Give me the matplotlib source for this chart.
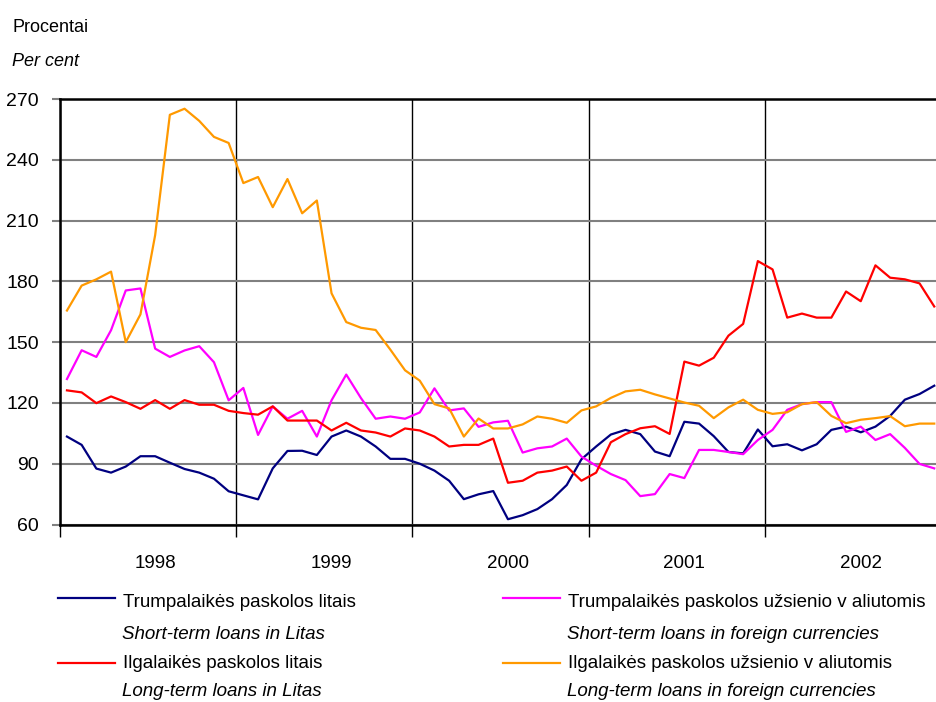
import numpy as np
import matplotlib
matplotlib.use("Agg")
import matplotlib.pyplot as plt
from matplotlib.lines import Line2D

plt.rcParams['font.family'] = ['Liberation Sans', 'DejaVu Sans']

# monthly data, Jan 1998 - Dec 2002
years = ['1998', '1999', '2000', '2001', '2002']

short_litas = [103.4, 99.3, 87.6, 85.6, 88.6, 93.7, 93.7, 90.5, 87.4, 85.6, 82.6, 76.4,
               74.4, 72.4, 87.7, 96.3, 96.4, 94.3, 103.4, 106.4, 103.4, 98.5, 92.4, 92.4,
               90.0, 86.6, 81.6, 72.5, 74.9, 76.5, 62.6, 64.6, 67.6, 72.5, 79.5, 92.2,
               98.5, 104.4, 106.7, 104.6, 96.0, 93.7, 110.7, 109.8, 103.6, 95.8, 95.1, 106.9,
               98.6, 99.6, 96.6, 99.6, 106.7, 108.3, 105.5, 108.3, 113.6, 121.6, 124.4, 128.5]

short_foreign = [131.8, 146.0, 142.7, 155.9, 175.5, 176.5, 146.8, 142.7, 145.9, 148.0, 140.1, 121.3,
                 127.4, 104.2, 118.3, 112.2, 116.1, 103.4, 121.3, 134.0, 122.4, 112.2, 113.3, 112.2,
                 115.3, 127.2, 116.3, 117.3, 108.2, 110.4, 111.2, 95.5, 97.6, 98.5, 102.4, 93.5,
                 89.0, 84.9, 81.9, 74.0, 75.0, 84.9, 82.9, 96.8, 96.8, 95.8, 94.7, 101.7,
                 106.7, 116.6, 119.4, 120.4, 120.4, 105.7, 108.3, 101.7, 104.6, 97.8, 89.9, 87.7]

long_litas = [126.2, 125.2, 119.9, 123.2, 120.4, 117.1, 121.4, 117.1, 121.4, 119.1, 119.1, 116.1,
              115.0, 114.2, 118.3, 111.3, 111.3, 111.3, 106.4, 110.2, 106.4, 105.4, 103.4, 107.4,
              106.4, 103.4, 98.5, 99.3, 99.3, 102.4, 80.6, 81.6, 85.6, 86.6, 88.6, 81.6,
              85.6, 100.6, 104.6, 107.5, 108.5, 104.7, 140.4, 138.4, 142.3, 153.2, 159.0, 190.0,
              185.9, 162.1, 164.1, 162.1, 162.1, 175.0, 170.2, 187.9, 181.8, 181.0, 179.0, 167.6]

long_foreign = [165.6, 177.9, 181.0, 184.8, 150.0, 163.7, 202.8, 262.2, 265.2, 259.2, 251.3, 248.3,
                228.5, 231.5, 216.6, 230.5, 213.6, 219.9, 174.1, 159.9, 157.1, 156.0, 146.3, 136.1,
                131.0, 119.4, 117.3, 103.4, 112.3, 107.4, 107.4, 109.4, 113.3, 112.2, 110.2, 116.3,
                118.3, 122.5, 125.7, 126.5, 124.2, 122.2, 120.2, 118.6, 112.5, 117.8, 121.6, 116.6,
                114.6, 115.4, 119.4, 120.4, 113.6, 110.0, 111.7, 112.5, 113.5, 108.5, 109.8, 109.8]

series = [
    (short_litas, '#000080', 'Trumpalaikės paskolos litais', 'Short-term loans in Litas'),
    (short_foreign, '#FF00FF', 'Trumpalaikės paskolos užsienio v aliutomis', 'Short-term loans in foreign currencies'),
    (long_litas, '#FF0000', 'Ilgalaikės paskolos litais', 'Long-term loans in Litas'),
    (long_foreign, '#FF9900', 'Ilgalaikės paskolos užsienio v aliutomis', 'Long-term loans in foreign currencies'),
]

W, H = 936, 702
fig = plt.figure(figsize=(W / 100, H / 100), dpi=100)
# axes run a bit past the right edge of the picture (cropped like the original)
ax = fig.add_axes([59.6 / W, 1 - 524.5 / H, 882 / W, 425.5 / H])

x = np.arange(len(short_litas))
for vals, col, lt, en in series:
    ax.plot(x, vals, color=col, lw=1.6, zorder=3)

ax.set_xlim(-0.5, len(x) - 0.5)
ax.set_ylim(60, 270)
ax.set_yticks(np.arange(60, 271, 30))

# year boundaries as major ticks, year names as minor ticks
ax.set_xticks(np.arange(-0.5, len(x), 12))
ax.set_xticklabels([])
ax.set_xticks(np.arange(6, len(x), 12), minor=True)
ax.set_xticklabels(years, minor=True)
ax.tick_params(axis='x', which='major', direction='out', length=8.5, width=1, color='black')
ax.tick_params(axis='x', which='minor', length=0, pad=22, labelsize=13.5)
ax.tick_params(axis='y', direction='out', length=6, width=1.5, color='#808080', pad=9, labelsize=14)

ax.grid(axis='y', color='#808080', lw=1.5, zorder=1)
ax.grid(axis='x', which='major', color='black', lw=1, zorder=1)

for side in ['left', 'top', 'bottom']:
    ax.spines[side].set_linewidth(1.8)
    ax.spines[side].set_color('black')
ax.spines['right'].set_visible(False)

# unit labels
fig.text(12 / W, 1 - 32 / H, 'Procentai', fontsize=13, va='baseline')
fig.text(12 / W, 1 - 65.5 / H, 'Per cent', fontsize=13, va='baseline', style='italic')

# legend drawn by hand: two columns, two lines per entry (line y, lt baseline, en baseline)
legend_pos = [(58, 598, 607, 639), (503, 598, 607, 639), (58, 663, 668, 696), (503, 663, 668, 696)]
for (vals, col, lt, en), (lx, ly, b1, b2) in zip(series, legend_pos):
    fig.add_artist(Line2D([lx / W, (lx + 57) / W], [1 - ly / H, 1 - ly / H],
                          color=col, lw=1.6, transform=fig.transFigure))
    fig.text((lx + 65) / W, 1 - b1 / H, lt, fontsize=13.5, va='baseline')
    fig.text((lx + 64) / W, 1 - b2 / H, en, fontsize=13.5, va='baseline', style='italic')

fig.savefig('out.png', dpi=100)
